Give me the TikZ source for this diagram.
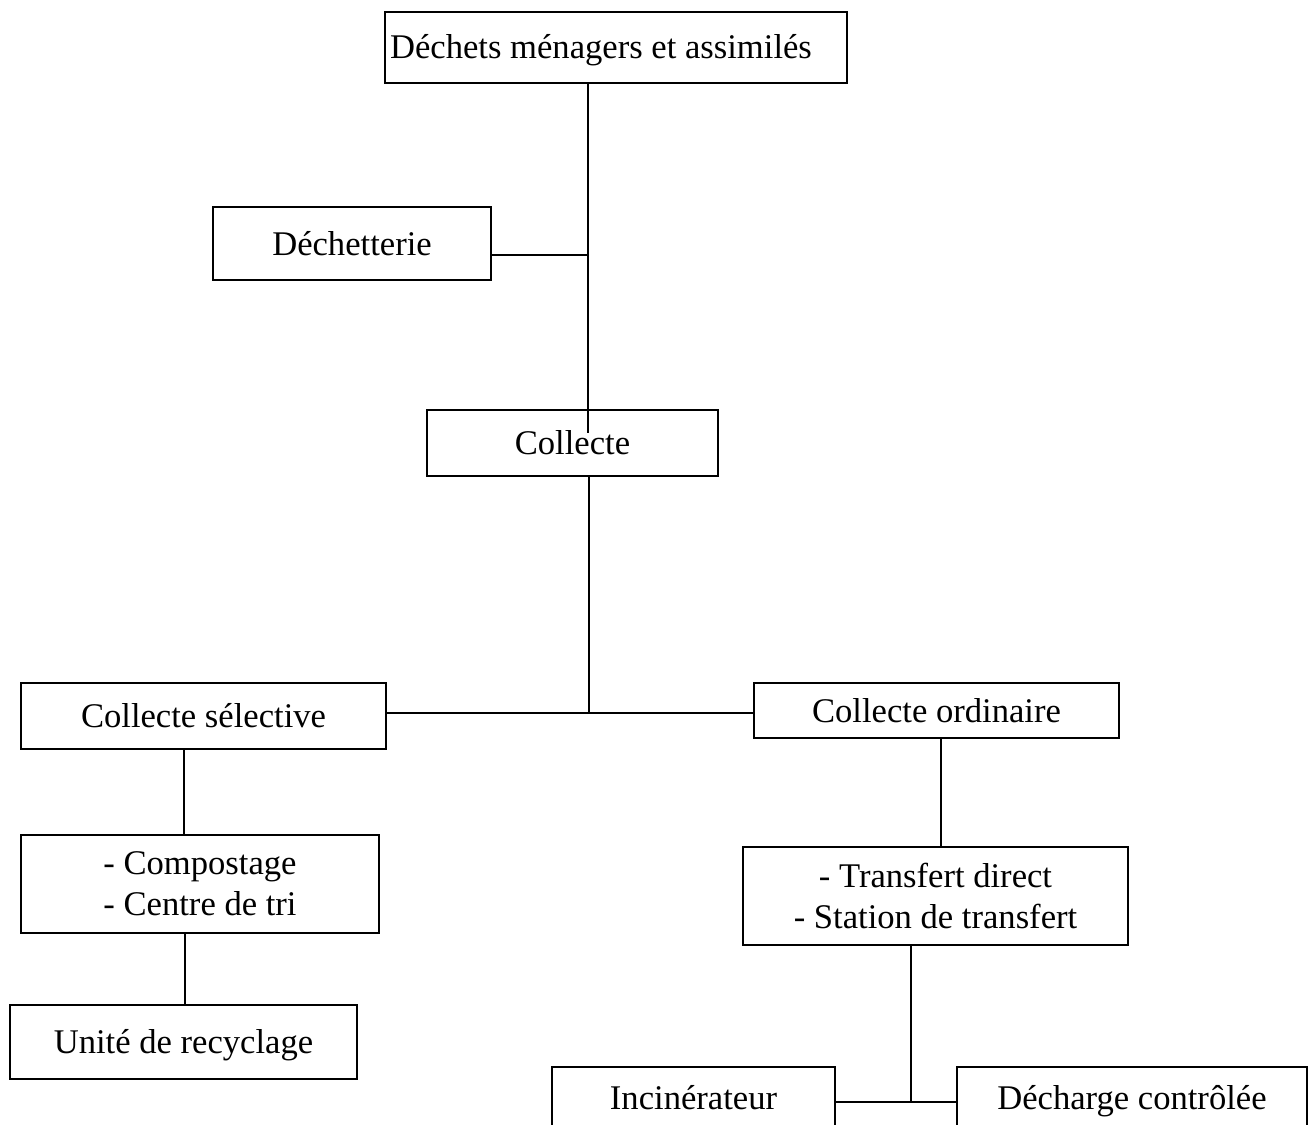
\documentclass[tikz,border=0pt]{standalone}
\usepackage{fontspec}
\setmainfont{Liberation Serif}
\begin{document}
\begin{tikzpicture}[x=1pt,y=-1pt,
  box/.style={draw, line width=2pt, rectangle, inner sep=0pt,
    font=\fontsize{34.6}{41}\selectfont},
  oneline/.style={box, text height=23pt, text depth=0pt},
  twoline/.style={box, align=center},
  conn/.style={line width=2pt}]
\useasboundingbox (0,0) rectangle (1314,1124);
\clip (0,0) rectangle (1314,1124);
% boxes
\node[oneline, minimum width=462pt, minimum height=71pt] (top) at (616,47.5) {Déchets ménagers et assimilés\hspace*{30pt}};
\node[oneline, minimum width=278pt, minimum height=73pt] (dech) at (352,243.5) {Déchetterie};
\node[oneline, minimum width=291pt, minimum height=66pt] (coll) at (572.5,443) {Collecte};
\node[oneline, minimum width=365pt, minimum height=66pt] (sel) at (203.5,716) {Collecte sélective};
\node[oneline, minimum width=365pt, minimum height=55pt] (ord) at (936.5,710.5) {Collecte ordinaire};
\node[twoline, minimum width=358pt, minimum height=98pt] (comp) at (200,884) {- Compostage\\- Centre de tri};
\node[oneline, minimum width=347pt, minimum height=74pt] (recy) at (183.5,1042) {Unité de recyclage};
\node[twoline, minimum width=385pt, minimum height=98pt] (trans) at (935.5,896) {- Transfert direct\\- Station de transfert};
\node[oneline, minimum width=283pt, minimum height=62pt] (inc) at (693.5,1098) {Incinérateur};
\node[oneline, minimum width=350pt, minimum height=62pt] (dc) at (1132,1098) {Décharge contrôlée};
% junction points
\coordinate (jtop) at (588,433);
\coordinate (jdech) at (588,255);
\coordinate (jcoll) at (589,713);
\coordinate (jsel) at (184,0);
\coordinate (jcomp) at (185,0);
\coordinate (jord) at (941,0);
\coordinate (jtrans) at (911,1102);
% connectors
\draw[conn] (top.south -| jtop) -- (jtop);
\draw[conn] (jdech -| dech.east) -- (jdech);
\draw[conn] (coll.south -| jcoll) -- (jcoll);
\draw[conn] (jcoll -| sel.east) -- (jcoll -| ord.west);
\draw[conn] (sel.south -| jsel) -- (comp.north -| jsel);
\draw[conn] (comp.south -| jcomp) -- (recy.north -| jcomp);
\draw[conn] (ord.south -| jord) -- (trans.north -| jord);
\draw[conn] (trans.south -| jtrans) -- (jtrans);
\draw[conn] (jtrans -| inc.east) -- (jtrans -| dc.west);
\end{tikzpicture}
\end{document}
